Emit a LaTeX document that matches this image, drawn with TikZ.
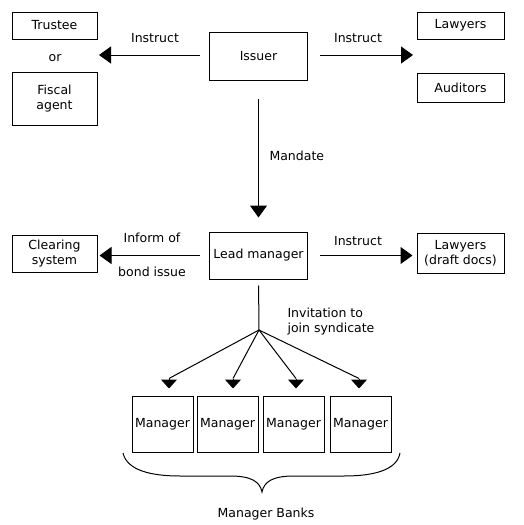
\documentclass[tikz,border=0pt]{standalone}
\usepackage{fontspec}
\setmainfont{DejaVu Sans}
\usetikzlibrary{arrows.meta}

\begin{document}
\begin{tikzpicture}[x=1pt, y=-1pt, font=\fontsize{12.5}{15}\selectfont,
    box/.style={draw, line width=1pt, inner sep=0pt, align=center},
    link/.style={line width=1pt},
    arr/.style={line width=1pt, -{Triangle[length=12pt, width=17pt]}},
    fan/.style={line width=1pt, -{Triangle[length=9pt, width=16pt]}}]
    \useasboundingbox (0, 0) rectangle (523, 525);

    \node[box, minimum width=85pt, minimum height=27pt] (trustee) at (54.5, 25.5) {Trustee};
    \node (or) at (55, 58) {or};
    \node[box, minimum width=85pt, minimum height=53pt] (fiscal) at (54.5, 98.5) {Fiscal\\agent};
    \node[box, minimum width=98pt, minimum height=48pt] (issuer) at (258.5, 56) {Issuer};
    \node[box, minimum width=87pt, minimum height=27pt] (lawyers) at (460.5, 25.5) {Lawyers};
    \node[box, minimum width=87pt, minimum height=29pt] (auditors) at (460.5, 87.5) {Auditors};
    \coordinate (trusteetip) at (99, 55);
    \coordinate (lawyerstip) at (413, 55);
    \draw[arr, shorten <=9pt] (issuer.west |- trusteetip) -- (trusteetip);
    \draw[arr, shorten <=12pt] (issuer.east |- lawyerstip) -- (lawyerstip);
    \node (instrleft) at (155, 38) {Instruct};
    \node (instrright) at (358, 38) {Instruct};

    \node[box, minimum width=98pt, minimum height=47pt] (lead) at (258.5, 255.5) {Lead manager};
    \draw[arr, shorten <=18pt, shorten >=14pt] (issuer.south) -- (lead.north);
    \node[anchor=west] (mandate) at (266, 156) {Mandate};

    \node[box, minimum width=85pt, minimum height=37pt] (clearing) at (54.5, 253.5) {Clearing\\system};
    \node[box, minimum width=87pt, minimum height=40pt] (lawdocs) at (460.5, 253) {Lawyers\\(draft docs)};
    \draw[arr, shorten <=9pt, shorten >=2pt] (lead.west) -- (lead.west -| clearing.east);
    \draw[arr, shorten <=12pt, shorten >=4pt] (lead.east) -- (lead.east -| lawdocs.west);
    \node (inform) at (152, 238) {Inform of};
    \node (bond) at (152, 272) {bond issue};
    \node (instrdocs) at (358, 241) {Instruct};

    \coordinate (hub) at (259, 330);
    \draw[link, shorten <=6pt] (lead.south) -- (hub);
    \node[anchor=west, align=left] (invite) at (284, 322) {Invitation to\\join syndicate};

    \foreach \i/\x/\dx in {1/162.5/6.5, 2/227.5/5.5, 3/293.5/2.5, 4/360.5/-1.5} {
        \node[box, minimum width=61pt, minimum height=56pt] (m\i) at (\x, 424) {Manager};
        \draw[link] (hub) -- ([xshift=\dx pt, yshift=17pt]m\i.north);
        \draw[fan] ([xshift=\dx pt, yshift=17pt]m\i.north) -- ([xshift=\dx pt, yshift=7pt]m\i.north);
    }

    \draw[link] (123, 453) .. controls (127, 470) and (150, 476) .. (180, 476)
        -- (230, 476) .. controls (252, 476) and (260, 482) .. (262, 492)
        .. controls (264, 482) and (272, 476) .. (294, 476)
        -- (344, 476) .. controls (374, 476) and (397, 470) .. (400, 453);
    \node (banks) at (266, 514) {Manager Banks};
\end{tikzpicture}
\end{document}
